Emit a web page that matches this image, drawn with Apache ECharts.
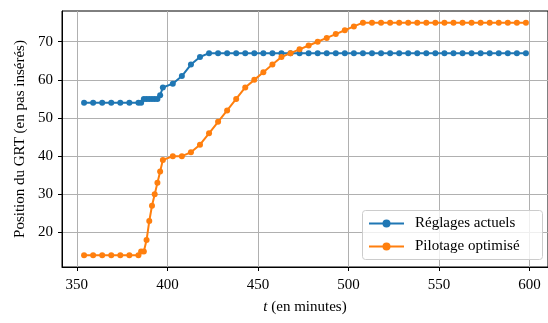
<!DOCTYPE html>
<html>
<head>
<meta charset="utf-8">
<script src="https://cdn.jsdelivr.net/npm/echarts@6/dist/echarts.min.js"></script>
<style>
  html, body { margin: 0; padding: 0; background: #fff; }
  #main { width: 548px; height: 323px; }
</style>
</head>
<body>
<div id="main"></div>
<script>
// temps (minutes)
var temps = [354, 359, 364, 369, 374, 379, 384, 385.5, 387, 388.5, 390, 391.5, 393, 394.5, 396, 397.5,
  403, 408, 413, 418, 423, 428, 433, 438, 443, 448, 453, 458, 463, 468, 473, 478, 483, 488, 493, 498,
  503, 508, 513, 518, 523, 528, 533, 538, 543, 548, 553, 558, 563, 568, 573, 578, 583, 588, 593, 598];

var reglages = [54, 54, 54, 54, 54, 54, 54, 54, 55, 55, 55, 55, 55, 55, 56, 58,
  59, 61, 64, 66, 67, 67, 67, 67, 67, 67, 67, 67, 67, 67, 67, 67, 67, 67, 67, 67,
  67, 67, 67, 67, 67, 67, 67, 67, 67, 67, 67, 67, 67, 67, 67, 67, 67, 67, 67, 67];

var pilotage = [14, 14, 14, 14, 14, 14, 14, 15, 15, 18, 23, 27, 30, 33, 36, 39,
  40, 40, 41, 43, 46, 49, 52, 55, 58, 60, 62, 64, 66, 67, 68, 69, 70, 71, 72, 73,
  74, 75, 75, 75, 75, 75, 75, 75, 75, 75, 75, 75, 75, 75, 75, 75, 75, 75, 75, 75];

var xTicks = [350, 400, 450, 500, 550, 600];
var yTicks = [20, 30, 40, 50, 60, 70];

var police = 'Liberation Serif';
var chart = echarts.init(document.getElementById('main'));

function paires(vals) {
  return temps.map(function (t, i) { return [t, vals[i]]; });
}

var option = {
  animation: false,
  textStyle: { fontFamily: police },
  grid: {
    left: 62, right: -3, top: 11, bottom: 56,
    show: true, borderColor: '#000', borderWidth: 1, backgroundColor: 'transparent'
  },
  xAxis: {
    type: 'value',
    min: 341.8, max: 610.2,
    name: '{i|t} (en minutes)',
    nameLocation: 'middle',
    nameGap: 33,
    nameTextStyle: {
      fontFamily: police, fontSize: 15, color: '#000',
      rich: { i: { fontFamily: police, fontStyle: 'italic', fontSize: 15, color: '#000' } }
    },
    axisLine: { show: true, lineStyle: { color: '#000', width: 1 } },
    axisTick: { show: true, length: 4, lineStyle: { color: '#000' }, customValues: xTicks },
    axisLabel: { fontFamily: police, fontSize: 15, color: '#000', margin: 11, customValues: xTicks },
    splitLine: { show: true, lineStyle: { color: '#b0b0b0', width: 1 } }
  },
  yAxis: {
    type: 'value',
    min: 10.95, max: 78.05,
    name: 'Position du GRT (en pas insérés)',
    nameLocation: 'middle',
    nameGap: 34,
    nameTextStyle: { fontFamily: police, fontSize: 15, color: '#000' },
    axisLine: { show: true, lineStyle: { color: '#000', width: 1 } },
    axisTick: { show: true, length: 4, lineStyle: { color: '#000' }, customValues: yTicks },
    axisLabel: { fontFamily: police, fontSize: 15, color: '#000', margin: 9, customValues: yTicks },
    splitLine: { show: true, lineStyle: { color: '#b0b0b0', width: 1 } }
  },
  legend: {
    orient: 'vertical',
    left: 364, top: 214,
    itemWidth: 35, itemHeight: 10,
    itemGap: 8,
    padding: [2, 4, 2, 4],
    textStyle: { fontFamily: police, fontSize: 15, color: '#000', padding: [0, 0, 0, 6] },
    data: ['Réglages actuels', 'Pilotage optimisé'],
    z: 6
  },
  graphic: [{
    type: 'rect',
    z: 5,
    shape: { x: 362.5, y: 210.5, width: 180, height: 49, r: 3 },
    style: { fill: 'rgba(255,255,255,0.8)', stroke: '#cccccc', lineWidth: 1 }
  }],
  series: [
    {
      name: 'Réglages actuels',
      type: 'line',
      data: paires(reglages),
      color: '#1f77b4',
      symbol: 'circle',
      symbolSize: 6,
      showAllSymbol: true,
      lineStyle: { width: 2 },
      z: 3
    },
    {
      name: 'Pilotage optimisé',
      type: 'line',
      data: paires(pilotage),
      color: '#ff7f0e',
      symbol: 'circle',
      symbolSize: 6,
      showAllSymbol: true,
      lineStyle: { width: 2 },
      z: 4
    }
  ]
};

chart.setOption(option);
</script>
</body>
</html>
